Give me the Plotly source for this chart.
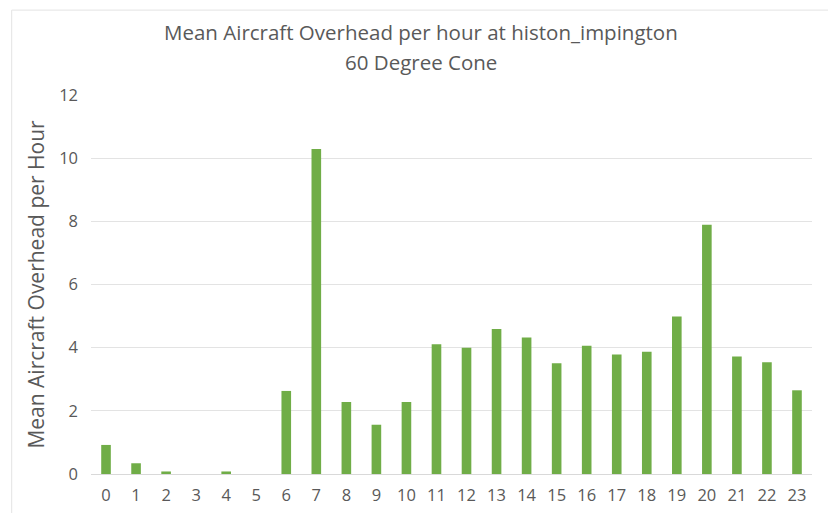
import plotly.graph_objects as go

hours = [str(h) for h in range(24)]
mean_aircraft = [0.92, 0.34, 0.08, 0.0, 0.08, 0.0, 2.63, 10.29, 2.28, 1.56, 2.28, 4.11,
                 4.0, 4.59, 4.32, 3.51, 4.06, 3.78, 3.87, 4.99, 7.89, 3.72, 3.54, 2.65]
y_ticks = [0, 2, 4, 6, 8, 10, 12]

title_line1 = "Mean Aircraft Overhead per hour at histon_impington"
title_line2 = "60 Degree Cone"
y_title = "Mean Aircraft Overhead per Hour"

font_family = "Open Sans, Liberation Sans, sans-serif"
grey = "#595959"

fig = go.Figure(go.Bar(x=hours, y=mean_aircraft, marker_color="#70ad47",
                       marker_line_width=0))

fig.update_layout(
    width=836, height=513,
    paper_bgcolor="white", plot_bgcolor="white",
    margin=dict(l=83, r=32, t=87, b=47),
    bargap=0.68,
    showlegend=False,
    font=dict(family=font_family, color=grey),
    xaxis=dict(type="category", tickfont=dict(size=16.5, color=grey), showgrid=False,
               showline=True, linecolor="#d9d9d9", linewidth=1, ticks="", ticklen=0,
               ticklabelstandoff=6),
    yaxis=dict(range=[0, 12], tickvals=y_ticks, tickfont=dict(size=16.5, color=grey),
               showgrid=True, gridcolor="#e3e3e3", gridwidth=1, zeroline=False,
               ticks="", ticklabelstandoff=12,
               title=dict(text=y_title, font=dict(size=21, color=grey), standoff=8)),
    annotations=[
        dict(text=title_line1, xref="paper", yref="paper", x=0.4577, y=1.1662,
             xanchor="center", yanchor="middle", showarrow=False,
             font=dict(family=font_family, size=20.5, color=grey)),
        dict(text=title_line2, xref="paper", yref="paper", x=0.4577, y=1.0871,
             xanchor="center", yanchor="middle", showarrow=False,
             font=dict(family=font_family, size=20.5, color=grey)),
    ],
    shapes=[dict(type="rect", xref="paper", yref="paper",
                 x0=-0.11, x1=1.028, y0=-0.3, y1=1.224,
                 line=dict(color="#e3e3e3", width=1), fillcolor="rgba(0,0,0,0)",
                 layer="below")],
)

fig.write_html("out.html")
